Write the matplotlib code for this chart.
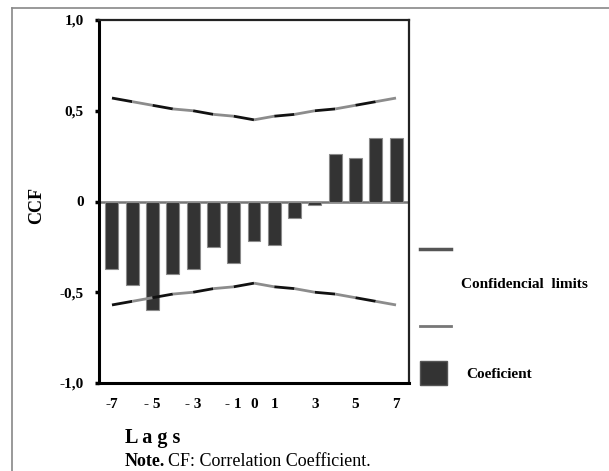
import numpy as np
import matplotlib.pyplot as plt
from matplotlib.lines import Line2D
from matplotlib.patches import Rectangle

# data
lags = [-7, -6, -5, -4, -3, -2, -1, 0, 1, 2, 3, 4, 5, 6, 7]
ccf = [-0.37, -0.46, -0.60, -0.40, -0.37, -0.25, -0.34, -0.22, -0.24,
       -0.09, -0.02, 0.26, 0.24, 0.35, 0.35]
upper = [0.57, 0.55, 0.53, 0.51, 0.50, 0.48, 0.47, 0.45, 0.47, 0.48,
         0.50, 0.51, 0.53, 0.55, 0.57]
lower = [-u for u in upper]
xtick_pos = [-7, -5, -3, -1, 0, 1, 3, 5, 7]
xtick_lab = ["-7", "- 5", "- 3", "- 1", "0", "1", "3", "5", "7"]
ytick_pos = [1.0, 0.5, 0.0, -0.5, -1.0]
ytick_lab = ["1,0", "0,5", "0", "-0,5", "-1,0"]

plt.rcParams['font.family'] = ['Liberation Serif', 'DejaVu Serif']

fig = plt.figure(figsize=(6.09, 4.71), dpi=100)
ax = fig.add_axes([99 / 609, 1 - 383 / 471, 310 / 609, 363 / 471])

ax.axhline(0, color='#777777', lw=1.8, zorder=1)
ax.bar(lags, ccf, width=0.64, color='#333333', edgecolor='#8a8a8a',
       linewidth=0.8, zorder=2)

# limit lines, segments alternate dark / grey like the scanned original
for limit in (upper, lower):
    for i in range(len(lags) - 1):
        col = '#111111' if i % 2 == 0 else '#8c8c8c'
        ax.plot(lags[i:i + 2], limit[i:i + 2], color=col, lw=2.0,
                solid_capstyle='butt', zorder=3)

ax.set_xlim(-7.64, 7.64)
ax.set_ylim(-1.0, 1.0)
ax.set_xticks(xtick_pos)
ax.set_xticklabels(xtick_lab, fontsize=11, fontweight='bold')
ax.set_yticks(ytick_pos)
ax.set_yticklabels(ytick_lab, fontsize=11, fontweight='bold')
ax.tick_params(axis='x', length=0, pad=11)
ax.tick_params(axis='y', length=3, width=2.5, pad=8, direction='out')

for side in ['left', 'bottom']:
    ax.spines[side].set_linewidth(2.2)
for side in ['top', 'right']:
    ax.spines[side].set_linewidth(1.6)
    ax.spines[side].set_color('#222222')

fig.text(37 / 609, 1 - 205 / 471, "CCF", rotation=90, fontsize=13,
         fontweight='bold', ha='center', va='center')

# legend drawn by hand
fig.add_artist(Line2D([420 / 609, 451 / 609], [1 - 249 / 471] * 2,
                      color='#555555', lw=2.5))
fig.add_artist(Line2D([420 / 609, 451 / 609], [1 - 326 / 471] * 2,
                      color='#777777', lw=2.0))
fig.add_artist(Rectangle((420 / 609, 1 - 385 / 471), 27 / 609, 24 / 471,
                         facecolor='#333333', edgecolor='#555555', lw=1))
fig.text(461 / 609, 1 - 285 / 471, "Confidencial  limits", fontsize=11,
         fontweight='bold', va='center')
fig.text(466 / 609, 1 - 374 / 471, "Coeficient", fontsize=11,
         fontweight='bold', va='center')

fig.text(125 / 609, 1 - 438 / 471, "L a g s", fontsize=14.5,
         fontweight='bold', va='center')
fig.text(125 / 609, 1 - 461 / 471, "Note.", fontsize=13,
         fontweight='bold', va='center')
fig.text(168 / 609, 1 - 461 / 471, "CF: Correlation Coefficient.",
         fontsize=13, va='center')

# page frame
fig.add_artist(Line2D([12 / 609, 12 / 609], [0, 1 - 8 / 471],
                      color='#888888', lw=1.2))
fig.add_artist(Line2D([12 / 609, 1], [1 - 8 / 471] * 2,
                      color='#888888', lw=1.2))

fig.savefig("out.png", dpi=100)
